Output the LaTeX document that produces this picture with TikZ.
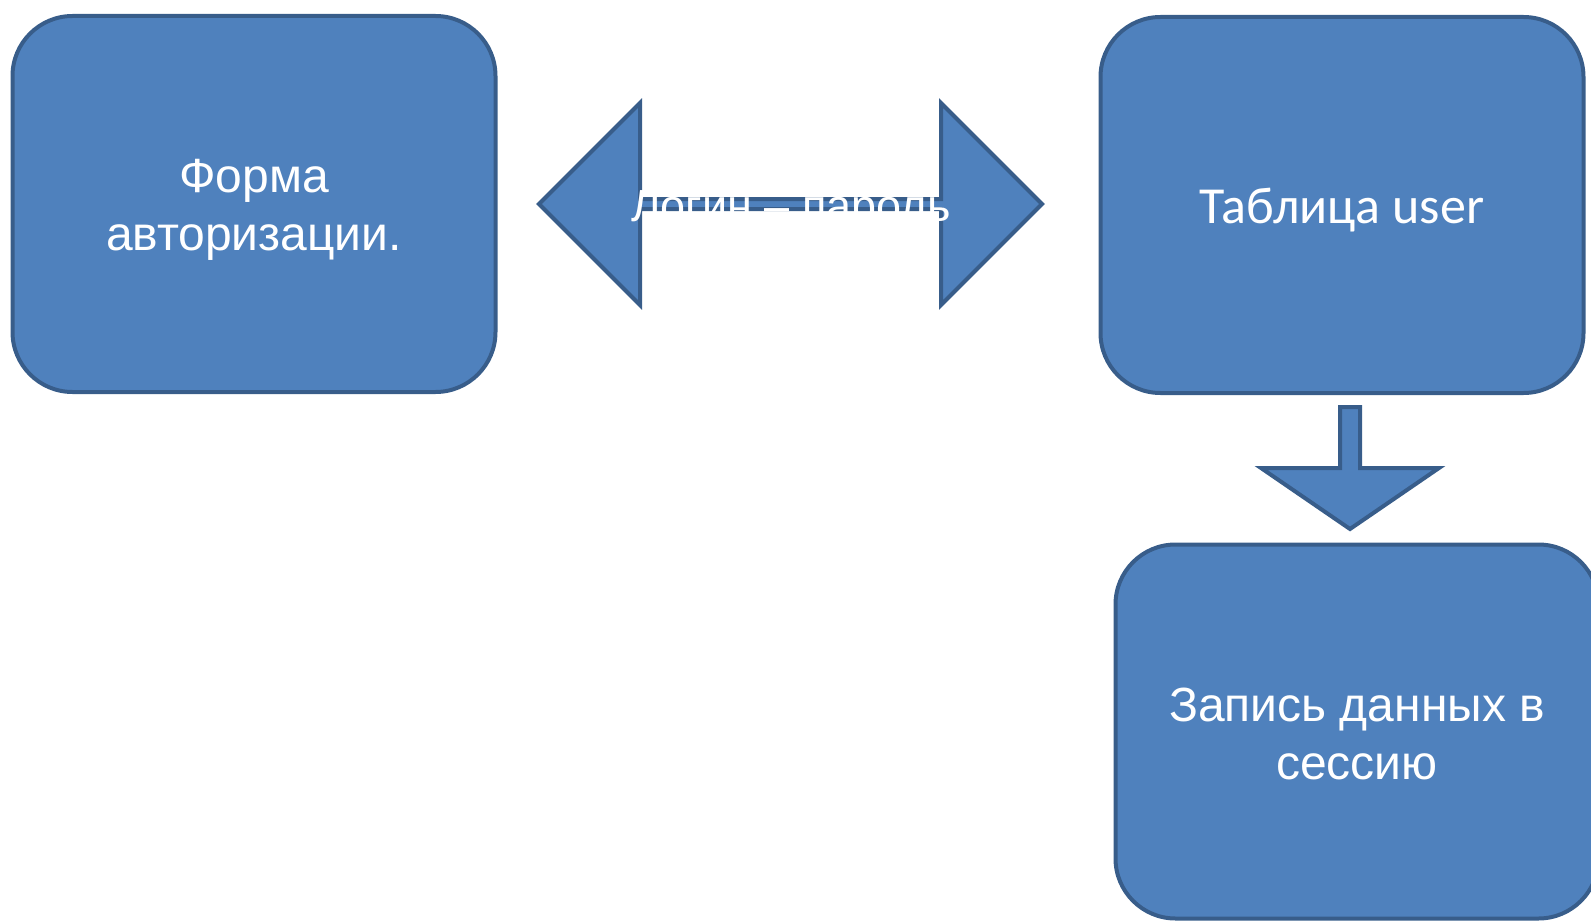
\documentclass[tikz,border=0pt]{standalone}
\usepackage{fontspec}
\setmainfont{Liberation Sans}
\newfontfamily\calfont{Carlito}
\definecolor{boxfill}{HTML}{4F81BD}
\definecolor{boxline}{HTML}{385D8A}
\tikzset{
  blk/.style={draw=boxline, fill=boxfill, line width=4pt, rounded corners=60pt,
    minimum width=483pt, minimum height=376pt, text=white, align=center,
    inner sep=0pt, font=\fontsize{48}{58}\selectfont},
  blockarrow/.style={draw=boxline, fill=boxfill, line width=4pt, line join=miter},
  arrowtext/.style={text=white, inner sep=0pt, font=\fontsize{45}{58}\selectfont}
}
\begin{document}
\begin{tikzpicture}[x=1pt,y=-1pt]
\useasboundingbox (0,0) rectangle (1591,923);
\clip (0,0) rectangle (1591,923);
% boxes
\node[blk] (form) at (254,204) {};
\node[text=white, align=center, font=\fontsize{48}{58}\selectfont] (formtext) at (254,210) {Форма\\авторизации.};
\node[blk] (table) at (1342,205) {};
\node[text=white, font=\calfont\fontsize{52}{58}\selectfont] (tabletext) at (1342,210) {Таблица user};
\node[blk, minimum height=374pt] (session) at (1357,731.5) {};
\node[text=white, align=center, font=\fontsize{48}{58}\selectfont] (sessiontext) at (1357,734) {Запись данных в\\сессию};
% double arrow between form and table
\coordinate (dl) at (539,204);
\coordinate (dr) at (1042,204);
\draw[blockarrow] (dl) -- (640,103) -- (640,199) -- (941,199) -- (941,103) -- (dr)
  -- (941,305) -- (941,209) -- (640,209) -- (640,305) -- cycle;
\node[arrowtext, anchor=base] (login) at (791,221) {Логин – пароль};
% down arrow from table to session
\coordinate (dtip) at (1350,529);
\draw[blockarrow] (1340,407) -- (1360,407) -- (1360,468) -- (1439,468) -- (dtip)
  -- (1261,468) -- (1340,468) -- cycle;
\end{tikzpicture}
\end{document}
